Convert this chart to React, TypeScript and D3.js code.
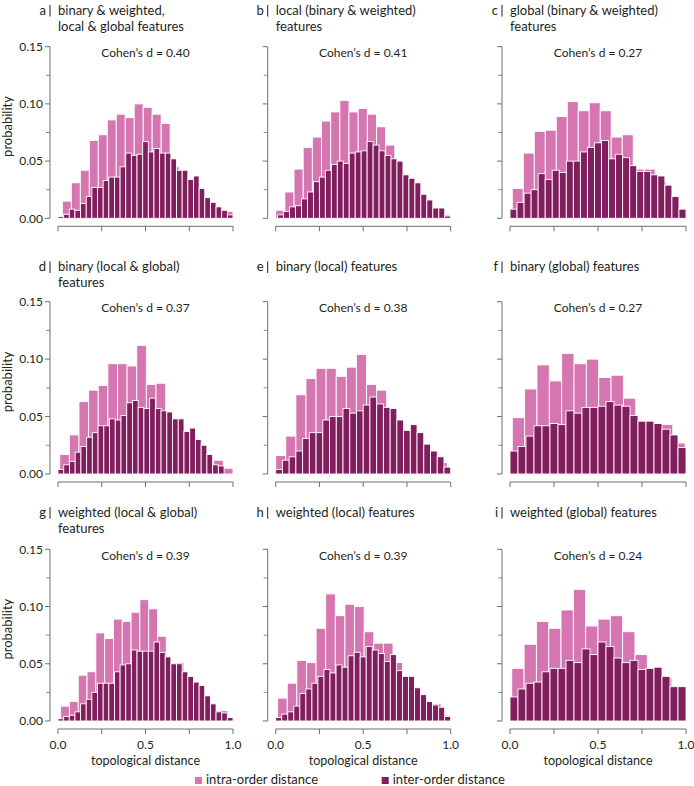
import React from "react";
import * as d3 from "d3";

// ---------- data ----------
const panelLetters = ["a", "b", "c", "d", "e", "f", "g", "h", "i"];
const titleLines = [
  ["binary & weighted,", "local & global features"],
  ["local (binary & weighted)", "features"],
  ["global (binary & weighted)", "features"],
  ["binary (local & global)", "features"],
  ["binary (local) features"],
  ["binary (global) features"],
  ["weighted (local & global)", "features"],
  ["weighted (local) features"],
  ["weighted (global) features"],
];
const cohensD = ["0.40", "0.41", "0.27", "0.37", "0.38", "0.27", "0.39", "0.39", "0.24"];

const yTicks = [0, 0.05, 0.1, 0.15];
const yMinorTicks = [0.025, 0.075, 0.125];
const xTicks = [0, 0.25, 0.5, 0.75, 1];
const xLabelTicks = [0, 0.5, 1];

const legendLabels = ["intra-order distance", "inter-order distance"];

// intra-order (pink) histograms
const intraA = [0.015, 0.031, 0.042, 0.068, 0.073, 0.086, 0.091, 0.088, 0.1, 0.097, 0.091, 0.083, 0.045, 0.033, 0.028, 0.017, 0.012, 0.006, 0.006];
const intraB = [0.007, 0.023, 0.043, 0.062, 0.071, 0.085, 0.093, 0.103, 0.093, 0.096, 0.091, 0.08, 0.064, 0.04, 0.03, 0.02, 0.012, 0.007, 0.003];
const intraC = [0.026, 0.057, 0.076, 0.077, 0.089, 0.102, 0.094, 0.101, 0.094, 0.071, 0.073, 0.043, 0.043, 0.032, 0.012];
const intraD = [0.017, 0.034, 0.063, 0.073, 0.077, 0.096, 0.096, 0.094, 0.112, 0.078, 0.079, 0.045, 0.035, 0.028, 0.022, 0.008, 0.012, 0.005];
const intraE = [0.016, 0.033, 0.069, 0.083, 0.092, 0.092, 0.085, 0.093, 0.104, 0.078, 0.073, 0.03, 0.02, 0.012, 0.008, 0.005, 0.01];
const intraF = [0.049, 0.074, 0.095, 0.081, 0.105, 0.096, 0.1, 0.084, 0.086, 0.066, 0.045, 0.04, 0.043, 0.027];
const intraG = [0.013, 0.017, 0.04, 0.043, 0.077, 0.072, 0.089, 0.087, 0.095, 0.106, 0.098, 0.074, 0.045, 0.051, 0.035, 0.028, 0.018, 0.009, 0.009];
const intraH = [0.02, 0.033, 0.053, 0.051, 0.081, 0.111, 0.092, 0.102, 0.1, 0.078, 0.068, 0.068, 0.051, 0.035, 0.022, 0.015, 0.015, 0.005];
const intraI = [0.046, 0.067, 0.087, 0.081, 0.097, 0.115, 0.083, 0.089, 0.092, 0.078, 0.058, 0.04, 0.038, 0.025];
// bin extents [first edge, last edge] of each intra histogram
const intraRanges = [
  [0.025, 1.0], [0, 0.995], [0.013, 0.95], [0.01, 1.0], [0, 0.98],
  [0.013, 0.995], [0.015, 0.971], [0.011, 1.0], [0.01, 0.99],
];

// inter-order (dark) histograms
const interA = [0.0015, 0.0035, 0.008, 0.007, 0.013, 0.019, 0.027, 0.027, 0.033, 0.036, 0.036, 0.045, 0.057, 0.055, 0.056, 0.067, 0.058, 0.061, 0.057, 0.057, 0.052, 0.042, 0.042, 0.034, 0.037, 0.026, 0.018, 0.014, 0.01, 0.007, 0.003];
const interB = [0.003, 0.006, 0.01, 0.011, 0.017, 0.023, 0.032, 0.036, 0.042, 0.047, 0.05, 0.048, 0.057, 0.058, 0.059, 0.067, 0.064, 0.059, 0.055, 0.052, 0.05, 0.038, 0.035, 0.031, 0.021, 0.016, 0.009, 0.009, 0.002];
const interC = [0.008, 0.014, 0.022, 0.025, 0.039, 0.034, 0.042, 0.04, 0.05, 0.05, 0.058, 0.062, 0.066, 0.068, 0.052, 0.056, 0.053, 0.046, 0.041, 0.041, 0.038, 0.037, 0.029, 0.019, 0.008];
const interD = [0.004, 0.008, 0.011, 0.019, 0.024, 0.032, 0.036, 0.042, 0.042, 0.048, 0.047, 0.051, 0.062, 0.064, 0.058, 0.057, 0.066, 0.057, 0.055, 0.054, 0.048, 0.048, 0.037, 0.04, 0.03, 0.025, 0.017, 0.008, 0.007];
const interE = [0.004, 0.012, 0.015, 0.02, 0.031, 0.036, 0.036, 0.047, 0.05, 0.05, 0.057, 0.053, 0.055, 0.06, 0.067, 0.061, 0.058, 0.057, 0.047, 0.038, 0.043, 0.036, 0.026, 0.02, 0.015, 0.006];
const interF = [0.02, 0.024, 0.033, 0.042, 0.042, 0.044, 0.043, 0.055, 0.053, 0.058, 0.058, 0.059, 0.063, 0.06, 0.059, 0.051, 0.046, 0.046, 0.044, 0.039, 0.034, 0.023];
const interG = [0.002, 0.004, 0.005, 0.008, 0.015, 0.019, 0.025, 0.033, 0.033, 0.033, 0.043, 0.049, 0.05, 0.062, 0.061, 0.061, 0.061, 0.069, 0.06, 0.056, 0.05, 0.05, 0.043, 0.039, 0.034, 0.031, 0.022, 0.015, 0.008, 0.007, 0.003];
const interH = [0.003, 0.006, 0.008, 0.013, 0.024, 0.028, 0.033, 0.039, 0.045, 0.042, 0.049, 0.047, 0.057, 0.06, 0.056, 0.065, 0.062, 0.059, 0.052, 0.058, 0.044, 0.039, 0.039, 0.029, 0.023, 0.017, 0.014, 0.012, 0.004];
const interI = [0.021, 0.028, 0.033, 0.034, 0.043, 0.046, 0.046, 0.053, 0.051, 0.063, 0.058, 0.069, 0.065, 0.055, 0.051, 0.053, 0.045, 0.046, 0.047, 0.039, 0.03, 0.03];
const interRanges = [
  [0, 1], [0.011, 1], [0, 1], [0, 0.949], [0, 1],
  [0, 1], [0, 1], [0, 1], [0, 1],
];

const intraSeries = [intraA, intraB, intraC, intraD, intraE, intraF, intraG, intraH, intraI];
const interSeries = [interA, interB, interC, interD, interE, interF, interG, interH, interI];

// ---------- layout / style ----------
const W = 694;
const H = 786;
const colX0 = [58, 275.7, 510];
const colX1 = [233, 450.7, 686];
const rowTop = [46.7, 301.7, 549.3];
const rowBottom = [218.3, 474, 721];
const titleBase = [14.5, 271, 516.7];
const PINK = "#d676b1";
const DARK = "#801e5e";
const AXIS = "#6f6f6f";
const TEXT = "#231f20";
const FONT = "Lato, 'Liberation Sans', sans-serif";

type Bin = { x0: number; x1: number; v: number };
function bins(values: number[], range: number[]): Bin[] {
  const [lo, hi] = range;
  const w = (hi - lo) / values.length;
  return values.map((v, i) => ({ x0: lo + i * w, x1: lo + (i + 1) * w, v }));
}

function Panel({ idx }: { idx: number }) {
  const col = idx % 3;
  const row = Math.floor(idx / 3);
  const x = d3.scaleLinear().domain([0, 1]).range([colX0[col], colX1[col]]);
  const y = d3.scaleLinear().domain([0, 0.15]).range([rowBottom[row], rowTop[row]]);
  const axisX = colX0[col] - 8;
  const axisY = rowBottom[row] + 8;
  const intra = bins(intraSeries[idx], intraRanges[idx]);
  const inter = bins(interSeries[idx], interRanges[idx]);
  const lines = titleLines[idx];
  const tb = titleBase[row];
  return (
    <g>
      {/* title */}
      <text x={axisX - 4} y={tb} fontSize={13} textAnchor="end" fill={TEXT} fontFamily={FONT}>
        {panelLetters[idx]}
      </text>
      <line x1={axisX} x2={axisX} y1={tb - 9.5} y2={tb + 2} stroke={TEXT} strokeWidth={1} />
      {lines.map((l, k) => (
        <text key={k} x={colX0[col]} y={tb + k * 16} fontSize={13} fill={TEXT} fontFamily={FONT}>
          {l}
        </text>
      ))}
      {/* bars */}
      {intra.map((b, k) => (
        <rect key={"p" + k} x={x(b.x0)} width={x(b.x1) - x(b.x0)} y={y(b.v)} height={y(0) - y(b.v)}
          fill={PINK} stroke="#fff" strokeWidth={0.9} />
      ))}
      {inter.map((b, k) => (
        <rect key={"d" + k} x={x(b.x0)} width={x(b.x1) - x(b.x0)} y={y(b.v)} height={y(0) - y(b.v)}
          fill={DARK} stroke="#fff" strokeWidth={0.9} />
      ))}
      {/* y axis */}
      <line x1={axisX} x2={axisX} y1={y(0.15)} y2={y(0)} stroke={AXIS} strokeWidth={1} />
      {yTicks.map((t) => (
        <g key={"yt" + t}>
          <line x1={axisX - 5} x2={axisX} y1={y(t)} y2={y(t)} stroke={AXIS} strokeWidth={1} />
          {col === 0 && (
            <text x={axisX - 7} y={y(t)} dy="0.35em" fontSize={12} textAnchor="end" fill={TEXT} fontFamily={FONT}>
              {d3.format(".2f")(t)}
            </text>
          )}
        </g>
      ))}
      {yMinorTicks.map((t) => (
        <line key={"ym" + t} x1={axisX - 4} x2={axisX} y1={y(t)} y2={y(t)} stroke={AXIS} strokeWidth={0.8} />
      ))}
      {col === 0 && (
        <text transform={`translate(${12},${(y(0) + y(0.15)) / 2 - 6}) rotate(-90)`} fontSize={13}
          textAnchor="middle" fill={TEXT} fontFamily={FONT}>
          probability
        </text>
      )}
      {/* cohen's d */}
      <text x={(colX0[col] + colX1[col]) / 2} y={rowTop[row] + 10.5} fontSize={12} textAnchor="middle"
        fill={TEXT} fontFamily={FONT}>
        {`Cohen’s d = ${cohensD[idx]}`}
      </text>
      {/* x axis */}
      <line x1={x(0)} x2={x(1)} y1={axisY} y2={axisY} stroke={AXIS} strokeWidth={1} />
      {xTicks.map((t) => (
        <line key={"xt" + t} x1={x(t)} x2={x(t)} y1={axisY} y2={axisY + 5} stroke={AXIS} strokeWidth={1} />
      ))}
      {row === 2 &&
        xLabelTicks.map((t) => (
          <text key={"xl" + t} x={x(t)} y={axisY + 20} fontSize={12} textAnchor="middle" fill={TEXT} fontFamily={FONT}>
            {d3.format(".1f")(t)}
          </text>
        ))}
      {row === 2 && (
        <text x={x(0.5)} y={axisY + 35.5} fontSize={12.5} textAnchor="middle" fill={TEXT} fontFamily={FONT}>
          topological distance
        </text>
      )}
    </g>
  );
}

export default function App() {
  const legendX = [195, 381.7];
  const legendColors = [PINK, DARK];
  return (
    <svg width={W} height={H} style={{ position: "absolute", left: 0, top: 0, background: "#fff" }}>
      <rect width={W} height={H} fill="#fff" />
      {panelLetters.map((_, i) => (
        <Panel key={i} idx={i} />
      ))}
      {legendLabels.map((l, i) => (
        <g key={l}>
          <rect x={legendX[i]} y={777} width={7} height={7} fill={legendColors[i]} />
          <text x={legendX[i] + 11} y={784} fontSize={13} fill={TEXT} fontFamily={FONT}>
            {l}
          </text>
        </g>
      ))}
    </svg>
  );
}
